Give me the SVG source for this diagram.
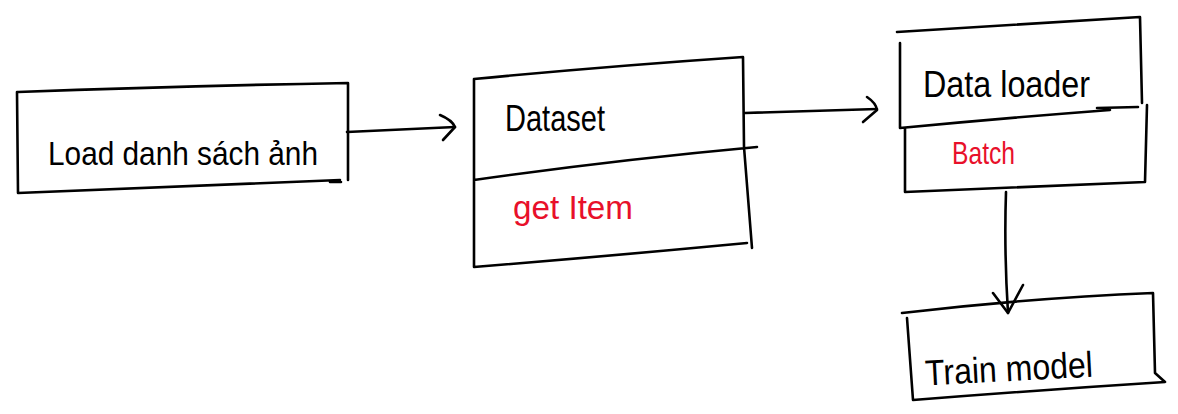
<svg xmlns="http://www.w3.org/2000/svg" width="1178" height="414" viewBox="0 0 1178 414">
<defs>
<style>
.ln{fill:none;stroke:#000;stroke-width:2.6;stroke-linecap:round;stroke-linejoin:round}
.t{font-family:"Liberation Sans",Arial,sans-serif;fill:#000}
.r{fill:#e8102a}
</style>
</defs>
<rect width="1178" height="414" fill="#fff"/>
<g id="connectors">
<path class="ln" d="M347,132 L455,127"/>
<path class="ln" d="M440,115 Q452,120 455,127 L443,140"/>
<path class="ln" d="M745,113 L877,109"/>
<path class="ln" d="M867,97 Q876,103 877,110 L863,122"/>
<path class="ln" d="M1006,192 Q1004,250 1008,313"/>
<path class="ln" d="M993,293 L1008,313 L1023,285"/>
</g>
<g id="node-load">
<path class="ln" d="M18,92 Q180,86 348,83 L348,180 M340,180 Q180,187 18,193 L17,92 M330,182 L341,182"/>
<text class="t" x="48" y="165" font-size="34" textLength="270" lengthAdjust="spacingAndGlyphs">Load danh sách ảnh</text>
</g>
<g id="node-dataset">
<path class="ln" d="M474,79 Q610,66 743,57 L744,147 L752,248 M474,180 L474,79 M474,180 Q615,160 757,147 M474,180 L474,267 Q610,256 747,243"/>
<text class="t" x="505" y="131" font-size="36" textLength="100" lengthAdjust="spacingAndGlyphs">Dataset</text>
<text class="t r" x="513" y="219" font-size="34" textLength="120" lengthAdjust="spacingAndGlyphs">get Item</text>
</g>
<g id="node-dataloader">
<path class="ln" d="M897,32 Q1020,24 1140,17 L1142,103 M900,43 L900,128 Q1005,118 1110,110 M1097,108 L1138,107 M905,128 L905,192 Q1025,187 1145,182 L1147,105"/>
<text class="t" x="923" y="97" font-size="36" textLength="167" lengthAdjust="spacingAndGlyphs">Data loader</text>
<text class="t r" x="952" y="164" font-size="32" textLength="63" lengthAdjust="spacingAndGlyphs">Batch</text>
</g>
<g id="node-train">
<path class="ln" d="M902,313 Q1030,298 1153,293 L1155,373 L1165,382 Q1040,390 913,400 L907,318"/>
<text class="t" x="925" y="381" font-size="36" textLength="168" lengthAdjust="spacingAndGlyphs" transform="rotate(-3 1009 370)">Train model</text>
</g>
</svg>
